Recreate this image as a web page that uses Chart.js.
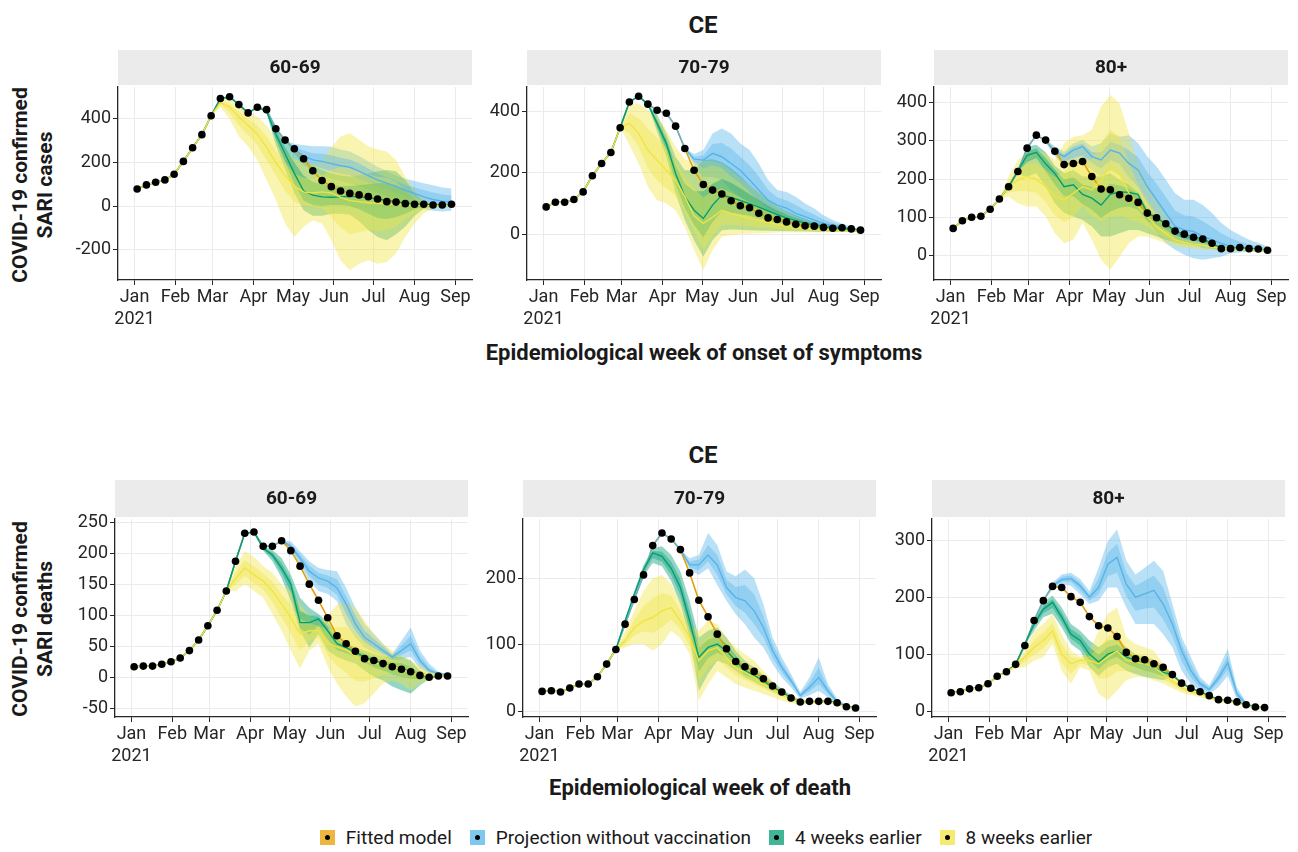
<!DOCTYPE html>
<html>
<head>
<meta charset="utf-8">
<script src="https://cdn.jsdelivr.net/npm/chart.js@4.4.1/dist/chart.umd.min.js"></script>
<style>
  body { margin:0; background:#fff; font-family:Roboto, "Noto Sans", sans-serif; color:#1a1a1a; }
  #wrap { position:relative; width:1298px; height:852px; overflow:hidden; }
  canvas { position:absolute; }
  .t { position:absolute; font-weight:bold; white-space:nowrap; text-align:center; }
  .ce { font-size:24px; width:200px; height:28px; line-height:28px; }
  .xt { font-size:22px; width:600px; height:28px; line-height:28px; }
  .yt { font-size:21px; width:300px; height:50px; line-height:25px; transform:rotate(-90deg); }
  #legend { position:absolute; left:57px; width:1298px; top:825px; height:24px; display:flex; justify-content:center; align-items:center; font-size:19px; color:#1a1a1a; }
  .item { display:flex; align-items:center; margin:0 9px; }
  .key { width:15px; height:15px; position:relative; margin-right:11px; }
  .key::after { content:''; position:absolute; left:5px; top:5px; width:5px; height:5px; border-radius:50%; background:#000; }
</style>
</head>
<body>
<div id="wrap">
  <div class="t ce" style="left:603px; top:11px;">CE</div>
  <div class="t ce" style="left:603px; top:441px;">CE</div>
  <div class="t xt" style="left:404px; top:339px;">Epidemiological week of onset of symptoms</div>
  <div class="t xt" style="left:400px; top:774px;">Epidemiological week of death</div>
  <div class="t yt" style="left:-117px; top:160px;">COVID-19 confirmed<br>SARI cases</div>
  <div class="t yt" style="left:-117px; top:594px;">COVID-19 confirmed<br>SARI deaths</div>
  <div id="legend">
    <div class="item"><span class="key" style="background:rgba(230,159,0,0.75)"></span>Fitted model</div>
    <div class="item"><span class="key" style="background:rgba(86,180,233,0.75)"></span>Projection without vaccination</div>
    <div class="item"><span class="key" style="background:rgba(0,158,115,0.75)"></span>4 weeks earlier</div>
    <div class="item"><span class="key" style="background:rgba(240,228,66,0.75)"></span>8 weeks earlier</div>
  </div>
</div>
<script>
const _ = null;

// epidemiological weeks of 2021, as day of year of the week start (Jan 3 .. Aug 29)
const weekDay = [2,9,16,23,30,37,44,51,58,65,72,79,86,93,100,107,114,121,128,135,142,149,156,163,170,177,184,191,198,205,212,219,226,233,240];
const monthDay = [0,31,59,90,120,151,181,212,243];
const monthName = ['Jan','Feb','Mar','Apr','May','Jun','Jul','Aug','Sep'];

// ---------- cases 60-69 ----------
const c60_yt = [-200,0,200,400];
const c60_obs = [78,97,109,120,146,205,268,328,415,494,502,466,428,454,443,355,303,263,217,162,117,89,69,58,51,43,32,20,18,11,8,8,5,5,8];
const c60_fit = c60_obs; // fitted curve runs through the observed points
const c60_nv_lo   = [_,_,_,_,_,_,_,_,_,_,_,_,_,_,_,_,303,240,190,160,140,125,115,105,90,75,60,45,30,15,0,-15,-22,-25,-22];
const c60_nv_lo50 = [_,_,_,_,_,_,_,_,_,_,_,_,_,_,_,_,303,250,210,186,172,160,150,142,125,108,90,75,60,44,30,14,4,-2,-2];
const c60_nv_med  = [_,_,_,_,_,_,_,_,_,_,_,_,_,_,_,_,303,260,230,212,205,195,185,178,160,140,120,105,90,72,58,42,30,22,18];
const c60_nv_hi50 = [_,_,_,_,_,_,_,_,_,_,_,_,_,_,_,_,303,272,255,243,240,233,222,214,195,172,150,132,115,98,86,73,62,53,48];
const c60_nv_hi   = [_,_,_,_,_,_,_,_,_,_,_,_,_,_,_,_,303,285,280,275,275,272,260,250,230,205,180,160,140,125,115,105,95,85,80];
const c60_w4_lo   = [_,_,_,_,_,_,_,_,_,_,_,_,_,454,425,280,170,60,-20,-45,-45,-35,-35,-40,-70,-110,-142,-157,-130,-95,-45,-12,-2,2,5];
const c60_w4_lo50 = [_,_,_,_,_,_,_,_,_,_,_,_,_,454,430,305,205,105,25,5,0,5,5,0,-15,-35,-55,-60,-50,-35,-15,-2,2,4,6];
const c60_w4_med  = [_,_,_,_,_,_,_,_,_,_,_,_,_,454,435,330,240,150,70,50,42,40,42,45,42,38,32,26,20,14,10,8,6,5,7];
const c60_w4_hi50 = [_,_,_,_,_,_,_,_,_,_,_,_,_,454,438,350,270,200,140,110,100,95,92,92,95,100,105,105,95,70,35,12,7,5,8];
const c60_w4_hi   = [_,_,_,_,_,_,_,_,_,_,_,_,_,454,440,370,300,255,215,185,165,150,140,135,140,150,160,166,160,120,60,18,8,6,8];
const c60_w8_lo   = [_,_,_,_,_,_,_,_,415,455,400,320,274,212,120,28,-80,-142,-95,-65,-80,-157,-249,-295,-265,-249,-265,-257,-218,-142,-80,-34,-11,-5,0];
const c60_w8_lo50 = [_,_,_,_,_,_,_,_,415,465,430,370,325,280,210,140,70,20,0,-5,-10,-50,-100,-130,-120,-110,-115,-110,-95,-60,-35,-14,-4,-1,2];
const c60_w8_med  = [_,_,_,_,_,_,_,_,415,475,455,410,370,330,270,200,140,90,65,60,65,60,40,25,20,15,12,10,8,5,3,2,2,3,5];
const c60_w8_hi50 = [_,_,_,_,_,_,_,_,415,485,470,435,400,370,320,255,200,150,130,125,140,165,180,180,165,145,135,130,110,70,40,18,6,5,7];
const c60_w8_hi   = [_,_,_,_,_,_,_,_,415,494,490,460,430,410,370,310,255,215,200,195,215,270,320,335,305,275,260,250,212,135,75,30,8,6,8];

// ---------- cases 70-79 ----------
const c70_yt = [0,200,400];
const c70_obs = [89,104,104,113,138,191,231,267,348,432,451,425,405,395,353,280,209,162,144,131,109,93,86,68,53,48,40,32,27,26,22,19,21,17,13];
const c70_fit = c70_obs;
const c70_nv_lo   = [_,_,_,_,_,_,_,_,_,_,_,_,_,_,_,280,225,187,187,177,144,122,100,78,57,48,35,30,20,15,12,10,9,8,8];
const c70_nv_lo50 = [_,_,_,_,_,_,_,_,_,_,_,_,_,_,_,280,236,215,225,215,188,166,138,110,84,72,60,49,38,30,23,19,15,13,11];
const c70_nv_med  = [_,_,_,_,_,_,_,_,_,_,_,_,_,_,_,280,245,242,264,253,231,209,177,144,111,95,85,68,57,46,35,28,22,18,14];
const c70_nv_hi50 = [_,_,_,_,_,_,_,_,_,_,_,_,_,_,_,280,253,257,295,298,280,252,225,188,145,120,110,95,78,64,48,37,28,21,15];
const c70_nv_hi   = [_,_,_,_,_,_,_,_,_,_,_,_,_,_,_,280,262,275,329,345,329,296,275,231,177,144,138,122,100,84,62,46,35,24,16];
const c70_w4_lo   = [_,_,_,_,_,_,_,_,_,_,_,425,335,253,133,46,-20,-74,-20,13,15,14,13,12,11,10,10,9,9,8,8,8,8,8,8];
const c70_w4_lo50 = [_,_,_,_,_,_,_,_,_,_,_,425,348,275,165,85,30,-10,40,75,70,65,60,52,45,38,32,27,22,19,16,14,13,12,10];
const c70_w4_med  = [_,_,_,_,_,_,_,_,_,_,_,425,362,296,198,122,78,51,95,128,120,110,100,88,76,64,53,44,36,30,25,21,19,16,13];
const c70_w4_hi50 = [_,_,_,_,_,_,_,_,_,_,_,425,375,312,225,165,140,140,165,180,168,150,130,112,93,77,63,53,43,35,29,24,21,17,14];
const c70_w4_hi   = [_,_,_,_,_,_,_,_,_,_,_,425,390,330,253,209,210,242,245,235,215,190,160,135,110,90,75,62,50,40,33,27,23,19,15];
const c70_w8_lo   = [_,_,_,_,_,_,_,_,348,291,231,155,111,100,78,24,-52,-118,-52,-9,-3,0,2,3,4,5,5,5,5,6,6,6,7,7,7];
const c70_w8_lo50 = [_,_,_,_,_,_,_,_,348,330,285,215,175,150,125,70,10,-50,-5,30,30,28,25,22,20,17,15,13,12,11,10,9,9,8,8];
const c70_w8_med  = [_,_,_,_,_,_,_,_,348,362,329,275,242,209,177,122,60,35,55,78,68,60,52,45,38,32,27,23,20,17,15,13,12,11,10];
const c70_w8_hi50 = [_,_,_,_,_,_,_,_,348,395,380,345,315,280,235,185,150,120,140,150,135,120,105,90,75,62,50,42,34,27,22,18,16,14,12];
const c70_w8_hi   = [_,_,_,_,_,_,_,_,348,422,427,405,384,340,286,245,235,240,240,230,210,185,160,135,110,90,72,58,45,35,28,22,20,17,14];

// ---------- cases 80+ ----------
const c80_yt = [0,100,200,300,400];
const c80_obs = [71,91,100,103,121,148,180,220,281,315,302,273,238,241,246,207,174,172,159,150,139,111,99,83,64,56,48,43,32,18,18,21,18,17,14];
const c80_fit = c80_obs;
const c80_nv_lo   = [_,_,_,_,_,_,_,_,_,315,295,260,233,233,240,224,207,224,210,172,137,93,58,32,15,2,-7,-11,-7,-3,6,8,10,10,10];
const c80_nv_lo50 = [_,_,_,_,_,_,_,_,_,315,298,266,246,255,262,242,228,250,240,205,180,137,102,70,45,34,28,20,17,14,14,13,13,12,11];
const c80_nv_med  = [_,_,_,_,_,_,_,_,_,315,300,272,259,276,285,259,250,276,268,241,224,180,146,111,76,67,63,50,41,32,24,20,17,15,13];
const c80_nv_hi50 = [_,_,_,_,_,_,_,_,_,315,302,278,265,285,293,270,270,297,290,275,258,218,188,153,118,105,102,90,75,58,45,37,29,24,19];
const c80_nv_hi   = [_,_,_,_,_,_,_,_,_,315,305,285,272,294,302,285,294,320,311,315,294,259,233,198,163,146,146,132,111,85,67,54,41,33,24];
const c80_w4_lo   = [_,_,_,_,_,_,180,212,207,215,180,137,111,102,93,76,50,50,58,67,67,58,50,41,35,30,27,24,20,14,14,15,14,13,12];
const c80_w4_lo50 = [_,_,_,_,_,_,180,218,245,255,220,185,155,155,135,120,98,115,125,128,120,90,80,66,52,45,40,35,27,19,17,18,16,15,13];
const c80_w4_med  = [_,_,_,_,_,_,180,222,262,270,240,215,180,185,160,150,132,160,167,165,160,111,99,83,64,56,48,43,32,18,18,21,18,17,14];
const c80_w4_hi50 = [_,_,_,_,_,_,180,225,272,280,255,225,198,205,185,180,170,188,183,175,162,118,102,85,65,57,49,43,33,22,19,20,18,16,14];
const c80_w4_hi   = [_,_,_,_,_,_,180,228,285,290,270,235,215,224,207,207,207,215,198,185,165,125,105,85,66,58,50,44,34,22,20,22,19,17,15];
const c80_w8_lo   = [_,_,_,_,_,148,154,137,128,128,102,58,32,41,85,41,-11,-37,-3,32,50,50,41,32,25,20,18,16,14,12,12,12,12,12,11];
const c80_w8_lo50 = [_,_,_,_,_,148,165,168,168,164,140,105,88,100,130,105,90,100,105,95,88,75,58,45,33,27,24,21,18,16,15,14,13,13,12];
const c80_w8_med  = [_,_,_,_,_,148,180,198,207,200,180,154,146,163,180,172,198,233,215,163,128,102,76,58,41,34,30,27,23,19,17,16,15,14,13];
const c80_w8_hi50 = [_,_,_,_,_,148,195,225,240,240,225,205,222,240,250,252,295,330,310,245,185,145,110,80,55,42,38,34,28,22,20,18,17,15,14];
const c80_w8_hi   = [_,_,_,_,_,148,207,250,268,276,268,250,294,311,315,329,390,420,398,320,241,189,146,102,67,50,45,40,32,25,22,20,18,16,14];

// ---------- deaths 60-69 ----------
const d60_yt = [-50,0,50,100,150,200,250];
const d60_obs = [18,19,19,22,26,32,44,61,84,109,140,188,233,235,212,212,221,205,180,151,125,97,68,55,43,31,28,23,18,14,10,4,1,3,3];
const d60_fit = d60_obs;
const d60_nv_lo   = [_,_,_,_,_,_,_,_,_,_,_,_,_,_,_,_,221,204,182,156,140,135,124,87,65,49,41,34,28,30,34,15,7,4,3];
const d60_nv_lo50 = [_,_,_,_,_,_,_,_,_,_,_,_,_,_,_,_,221,208,187,164,150,145,134,103,76,57,48,39,31,37,44,21,9,5,4];
const d60_nv_med  = [_,_,_,_,_,_,_,_,_,_,_,_,_,_,_,_,221,212,193,172,161,156,145,119,87,65,55,44,34,44,55,28,12,7,5];
const d60_nv_hi50 = [_,_,_,_,_,_,_,_,_,_,_,_,_,_,_,_,221,216,199,181,169,165,159,132,100,76,63,50,37,52,68,36,17,8,5];
const d60_nv_hi   = [_,_,_,_,_,_,_,_,_,_,_,_,_,_,_,_,221,220,204,188,177,174,172,145,113,87,71,55,39,60,81,44,23,10,6];
const d60_w4_lo   = [_,_,_,_,_,_,_,_,_,_,_,_,_,235,205,188,161,124,76,49,71,44,34,28,23,12,2,-4,-14,-20,-25,-12,-2,1,2];
const d60_w4_lo50 = [_,_,_,_,_,_,_,_,_,_,_,_,_,235,207,193,169,138,80,70,84,62,45,40,34,25,17,12,6,2,-2,-2,0,1,2];
const d60_w4_med  = [_,_,_,_,_,_,_,_,_,_,_,_,_,235,209,198,177,151,89,89,95,76,55,49,41,34,28,23,18,15,10,4,2,2,3];
const d60_w4_hi50 = [_,_,_,_,_,_,_,_,_,_,_,_,_,235,210,202,185,158,108,100,99,83,62,53,45,39,33,28,25,24,18,8,3,3,3];
const d60_w4_hi   = [_,_,_,_,_,_,_,_,_,_,_,_,_,235,212,206,193,166,129,113,103,90,70,58,49,44,39,34,34,34,28,12,5,4,4];
const d60_w8_lo   = [_,_,_,_,_,_,_,_,_,_,140,140,151,140,129,103,76,44,15,44,55,18,-9,-30,-46,-41,-25,-9,-4,-10,-20,-10,-2,1,2];
const d60_w8_lo50 = [_,_,_,_,_,_,_,_,_,_,140,150,164,153,142,122,98,72,44,60,65,36,20,8,-5,-6,0,6,6,2,-4,-2,0,2,2];
const d60_w8_med  = [_,_,_,_,_,_,_,_,_,_,140,160,177,166,156,140,119,97,71,76,76,55,50,45,35,28,24,22,18,14,8,5,4,3,3];
const d60_w8_hi50 = [_,_,_,_,_,_,_,_,_,_,140,170,190,180,168,155,135,118,95,88,84,78,82,82,72,60,48,38,31,25,18,12,8,4,3];
const d60_w8_hi   = [_,_,_,_,_,_,_,_,_,_,140,180,204,195,180,170,150,140,118,100,90,100,118,124,113,92,71,55,44,36,28,20,12,6,3];

// ---------- deaths 70-79 ----------
const d70_yt = [0,100,200];
const d70_obs = [30,31,29,35,41,41,52,71,93,131,168,205,249,268,259,243,208,167,142,116,94,75,67,60,49,38,29,20,14,15,15,15,13,7,5];
const d70_fit = d70_obs;
const d70_nv_lo   = [_,_,_,_,_,_,_,_,_,_,_,_,_,_,_,243,213,205,215,190,166,146,131,111,96,71,51,36,19,24,31,21,9,6,4];
const d70_nv_lo50 = [_,_,_,_,_,_,_,_,_,_,_,_,_,_,_,243,216,212,225,205,176,158,148,131,111,81,58,41,21,30,41,26,11,7,4];
const d70_nv_med  = [_,_,_,_,_,_,_,_,_,_,_,_,_,_,_,243,220,220,235,220,186,171,166,151,126,91,66,46,24,36,51,31,14,8,5];
const d70_nv_hi50 = [_,_,_,_,_,_,_,_,_,_,_,_,_,_,_,243,225,228,250,235,198,187,190,176,143,101,73,51,26,43,66,36,16,9,5];
const d70_nv_hi   = [_,_,_,_,_,_,_,_,_,_,_,_,_,_,_,243,230,235,268,250,210,203,213,200,161,111,81,56,29,51,81,41,19,10,6];
const d70_w4_lo   = [_,_,_,_,_,_,_,_,93,134,172,203,223,218,196,161,111,31,56,76,71,61,51,44,37,30,24,17,12,12,13,13,11,6,4];
const d70_w4_lo50 = [_,_,_,_,_,_,_,_,93,135,174,208,230,225,205,174,122,60,80,88,81,68,55,49,41,33,26,18,13,13,14,14,12,6,4];
const d70_w4_med  = [_,_,_,_,_,_,_,_,93,136,176,213,238,233,215,186,136,81,96,101,91,76,61,54,46,36,29,20,14,14,15,15,13,7,5];
const d70_w4_hi50 = [_,_,_,_,_,_,_,_,93,137,178,216,241,240,225,198,151,96,108,113,101,84,68,60,50,40,31,22,15,15,15,15,13,7,5];
const d70_w4_hi   = [_,_,_,_,_,_,_,_,93,138,180,220,245,248,235,210,166,111,121,126,111,91,76,66,55,44,34,24,17,16,16,16,14,8,6];
const d70_w8_lo   = [_,_,_,_,_,_,_,_,93,96,101,101,91,101,121,110,86,16,41,61,51,41,36,31,26,21,16,12,10,11,12,12,10,5,3];
const d70_w8_lo50 = [_,_,_,_,_,_,_,_,93,100,114,120,118,126,138,123,98,45,66,78,66,54,48,41,34,28,21,15,12,12,13,13,11,5,3];
const d70_w8_med  = [_,_,_,_,_,_,_,_,93,106,126,136,141,151,156,136,111,76,91,96,81,66,59,51,41,34,26,19,14,14,14,14,12,6,4];
const d70_w8_hi50 = [_,_,_,_,_,_,_,_,93,112,138,158,170,178,174,151,121,98,112,112,96,81,72,63,51,40,29,20,15,15,15,15,13,7,5];
const d70_w8_hi   = [_,_,_,_,_,_,_,_,93,121,151,181,200,205,191,166,131,121,136,131,111,96,86,76,61,46,31,21,16,16,16,16,14,8,5];

// ---------- deaths 80+ ----------
const d80_yt = [0,100,200,300];
const d80_obs = [32,34,39,41,48,61,69,82,115,159,194,219,217,201,191,166,150,146,131,103,92,90,83,77,64,49,40,34,27,20,19,16,11,7,6];
const d80_fit = d80_obs;
const d80_nv_lo   = [_,_,_,_,_,_,_,_,_,_,194,214,223,220,205,188,194,217,217,182,153,153,153,135,112,71,48,35,30,42,62,20,8,5,4];
const d80_nv_lo50 = [_,_,_,_,_,_,_,_,_,_,194,217,227,227,212,194,205,237,243,202,176,180,182,161,132,88,59,41,34,50,73,25,10,6,4];
const d80_nv_med  = [_,_,_,_,_,_,_,_,_,_,194,220,231,233,220,200,217,258,270,223,200,206,212,188,153,106,71,48,38,58,85,30,12,7,5];
const d80_nv_hi50 = [_,_,_,_,_,_,_,_,_,_,194,223,236,238,226,205,234,278,294,243,220,229,238,217,170,118,83,54,42,66,97,36,14,7,6];
const d80_nv_hi   = [_,_,_,_,_,_,_,_,_,_,194,226,240,243,232,211,252,299,319,264,240,252,264,246,188,130,95,60,45,75,109,42,16,8,6];
const d80_w4_lo   = [_,_,_,_,_,_,_,82,115,141,165,171,147,118,106,77,62,77,83,71,65,60,57,54,60,48,39,33,26,19,18,15,10,7,5];
const d80_w4_lo50 = [_,_,_,_,_,_,_,82,116,147,172,181,156,127,115,89,74,89,95,83,77,71,67,61,62,48,39,33,26,19,18,15,10,7,5];
const d80_w4_med  = [_,_,_,_,_,_,_,82,118,153,179,191,165,135,124,100,86,100,106,95,89,83,77,68,64,49,40,34,27,20,19,16,11,7,6];
const d80_w4_hi50 = [_,_,_,_,_,_,_,82,119,158,185,197,173,144,133,112,99,112,117,104,95,89,84,74,65,49,40,34,27,20,19,16,11,7,6];
const d80_w4_hi   = [_,_,_,_,_,_,_,82,120,162,191,203,182,153,141,124,112,124,127,112,100,95,90,80,66,50,41,35,28,21,19,16,11,7,6];
const d80_w8_lo   = [_,_,_,_,_,61,66,75,77,89,95,118,71,48,77,71,30,19,36,54,60,60,54,48,40,32,28,24,20,16,15,13,9,6,5];
const d80_w8_lo50 = [_,_,_,_,_,61,67,78,86,100,110,129,85,65,83,80,57,58,70,71,73,71,65,56,46,36,31,27,22,17,16,14,9,6,5];
const d80_w8_med  = [_,_,_,_,_,61,68,80,95,112,124,141,100,83,89,89,83,95,106,89,86,83,77,65,52,41,34,30,24,18,17,14,10,6,5];
const d80_w8_hi50 = [_,_,_,_,_,61,69,82,100,125,138,156,117,95,92,97,110,130,142,108,101,97,91,74,58,45,37,32,26,19,18,15,10,6,5];
const d80_w8_hi   = [_,_,_,_,_,61,70,85,106,141,153,171,135,106,95,106,141,171,182,130,118,112,106,83,64,50,41,35,28,21,19,16,11,7,6];

const COL = { fit:'#E69F00', nv:'#56B4E9', w4:'#009E73', w8:'#F0E442' };

Chart.defaults.font.family = 'Roboto';
Chart.defaults.animation = false;

function rgba(hex, a) {
  const n = parseInt(hex.slice(1), 16);
  return 'rgba(' + (n >> 16) + ',' + ((n >> 8) & 255) + ',' + (n & 255) + ',' + a + ')';
}
function pts(arr) {
  const out = [];
  arr.forEach(function (v, i) { if (v !== null) out.push({ x: weekDay[i], y: v }); });
  return out;
}

const stripPlugin = {
  id: 'strip',
  beforeDraw(chart, args, o) {
    const a = chart.chartArea, ctx = chart.ctx;
    ctx.save();
    ctx.fillStyle = '#EBEBEB';
    ctx.fillRect(a.left, 0, a.right - a.left, o.h);
    ctx.fillStyle = '#1a1a1a';
    ctx.font = 'bold 19px Roboto';
    ctx.textAlign = 'center';
    ctx.textBaseline = 'middle';
    ctx.fillText(o.text, (a.left + a.right) / 2, o.h / 2 + 1);
    ctx.restore();
  }
};

const YW = 52, XH = 52, PADR = 6;
const wrap = document.getElementById('wrap');

function panel(p) {
  const cv = document.createElement('canvas');
  const w = p.right - p.left + YW + PADR;
  const h = p.bottom - p.stripTop + XH;
  cv.width = w; cv.height = h;
  cv.style.left = (p.left - YW) + 'px';
  cv.style.top = p.stripTop + 'px';
  cv.style.width = w + 'px'; cv.style.height = h + 'px';
  wrap.appendChild(cv);

  const ds = [];
  let paint = 0;
  function add(d) { d.order = 1000 - paint++; d.pointRadius = d.pointRadius || 0; ds.push(d); }
  function band(lo, hi, col, a) {
    add({ data: pts(lo), borderWidth: 0, fill: false });
    add({ data: pts(hi), borderWidth: 0, fill: '-1', backgroundColor: rgba(col, a) });
  }
  function lineOf(med) { return med.map(function (v, i) { return v === null ? p.fit[i] : v; }); }

  const sc = [['nv', p.nv], ['w4', p.w4], ['w8', p.w8]];
  sc.forEach(function (s) { band(s[1].lo, s[1].hi, COL[s[0]], 0.42); });
  sc.forEach(function (s) { band(s[1].lo50, s[1].hi50, COL[s[0]], 0.38); });
  add({ data: pts(p.fit), borderColor: COL.fit, borderWidth: 1.6, fill: false });
  sc.forEach(function (s) { add({ data: pts(lineOf(s[1].med)), borderColor: COL[s[0]], borderWidth: 1.4, fill: false }); });
  add({ data: pts(p.obs), showLine: false, pointRadius: 3.8, pointBackgroundColor: '#000', pointBorderWidth: 0 });

  new Chart(cv, {
    type: 'line',
    data: { datasets: ds },
    plugins: [stripPlugin],
    options: {
      responsive: false,
      devicePixelRatio: 1,
      layout: { autoPadding: false, padding: { top: p.top - p.stripTop, right: PADR, left: 0, bottom: 0 } },
      plugins: { legend: { display: false }, tooltip: { enabled: false }, strip: { text: p.strip, h: p.stripH } },
      elements: { line: { tension: 0 } },
      scales: {
        x: {
          type: 'linear', min: -12.5, max: 255.5,
          afterBuildTicks: function (s) { s.ticks = monthDay.map(function (v) { return { value: v }; }); },
          afterFit: function (s) { s.height = XH; },
          grid: { color: '#EBEBEB', lineWidth: 1, tickColor: '#262626', tickLength: 5 },
          border: { color: '#262626', width: 1.3 },
          ticks: {
            autoSkip: false, maxRotation: 0, minRotation: 0, padding: 2, color: '#262626', font: { size: 18 },
            callback: function (v) { const k = monthDay.indexOf(v); return k === 0 ? [monthName[0], '2021'] : monthName[k]; }
          }
        },
        y: {
          min: p.ymin, max: p.ymax,
          afterBuildTicks: function (s) { s.ticks = p.yt.map(function (v) { return { value: v }; }); },
          afterFit: function (s) { s.width = YW; },
          grid: { color: '#EBEBEB', lineWidth: 1, tickColor: '#262626', tickLength: 5 },
          border: { color: '#262626', width: 1.3 },
          ticks: { padding: 2, color: '#262626', font: { size: 18 } }
        }
      }
    }
  });
}

function scen(lo, lo50, med, hi50, hi) { return { lo: lo, lo50: lo50, med: med, hi50: hi50, hi: hi }; }

panel({ strip: '60-69', stripTop: 50, stripH: 35, top: 87, bottom: 280, left: 118, right: 472, ymin: -340, ymax: 547, yt: c60_yt,
  obs: c60_obs, fit: c60_fit,
  nv: scen(c60_nv_lo, c60_nv_lo50, c60_nv_med, c60_nv_hi50, c60_nv_hi),
  w4: scen(c60_w4_lo, c60_w4_lo50, c60_w4_med, c60_w4_hi50, c60_w4_hi),
  w8: scen(c60_w8_lo, c60_w8_lo50, c60_w8_med, c60_w8_hi50, c60_w8_hi) });
panel({ strip: '70-79', stripTop: 50, stripH: 35, top: 87, bottom: 280, left: 527, right: 881, ymin: -150, ymax: 481, yt: c70_yt,
  obs: c70_obs, fit: c70_fit,
  nv: scen(c70_nv_lo, c70_nv_lo50, c70_nv_med, c70_nv_hi50, c70_nv_hi),
  w4: scen(c70_w4_lo, c70_w4_lo50, c70_w4_med, c70_w4_hi50, c70_w4_hi),
  w8: scen(c70_w8_lo, c70_w8_lo50, c70_w8_med, c70_w8_hi50, c70_w8_hi) });
panel({ strip: '80+', stripTop: 50, stripH: 35, top: 87, bottom: 280, left: 934, right: 1288, ymin: -64, ymax: 441, yt: c80_yt,
  obs: c80_obs, fit: c80_fit,
  nv: scen(c80_nv_lo, c80_nv_lo50, c80_nv_med, c80_nv_hi50, c80_nv_hi),
  w4: scen(c80_w4_lo, c80_w4_lo50, c80_w4_med, c80_w4_hi50, c80_w4_hi),
  w8: scen(c80_w8_lo, c80_w8_lo50, c80_w8_med, c80_w8_hi50, c80_w8_hi) });
panel({ strip: '60-69', stripTop: 480, stripH: 37, top: 519, bottom: 717, left: 115, right: 468, ymin: -63, ymax: 256, yt: d60_yt,
  obs: d60_obs, fit: d60_fit,
  nv: scen(d60_nv_lo, d60_nv_lo50, d60_nv_med, d60_nv_hi50, d60_nv_hi),
  w4: scen(d60_w4_lo, d60_w4_lo50, d60_w4_med, d60_w4_hi50, d60_w4_hi),
  w8: scen(d60_w8_lo, d60_w8_lo50, d60_w8_med, d60_w8_hi50, d60_w8_hi) });
panel({ strip: '70-79', stripTop: 480, stripH: 37, top: 519, bottom: 717, left: 523, right: 876, ymin: -8.5, ymax: 289, yt: d70_yt,
  obs: d70_obs, fit: d70_fit,
  nv: scen(d70_nv_lo, d70_nv_lo50, d70_nv_med, d70_nv_hi50, d70_nv_hi),
  w4: scen(d70_w4_lo, d70_w4_lo50, d70_w4_med, d70_w4_hi50, d70_w4_hi),
  w8: scen(d70_w8_lo, d70_w8_lo50, d70_w8_med, d70_w8_hi50, d70_w8_hi) });
panel({ strip: '80+', stripTop: 480, stripH: 37, top: 519, bottom: 717, left: 932, right: 1285, ymin: -10.5, ymax: 337.5, yt: d80_yt,
  obs: d80_obs, fit: d80_fit,
  nv: scen(d80_nv_lo, d80_nv_lo50, d80_nv_med, d80_nv_hi50, d80_nv_hi),
  w4: scen(d80_w4_lo, d80_w4_lo50, d80_w4_med, d80_w4_hi50, d80_w4_hi),
  w8: scen(d80_w8_lo, d80_w8_lo50, d80_w8_med, d80_w8_hi50, d80_w8_hi) });
</script>
</body>
</html>
